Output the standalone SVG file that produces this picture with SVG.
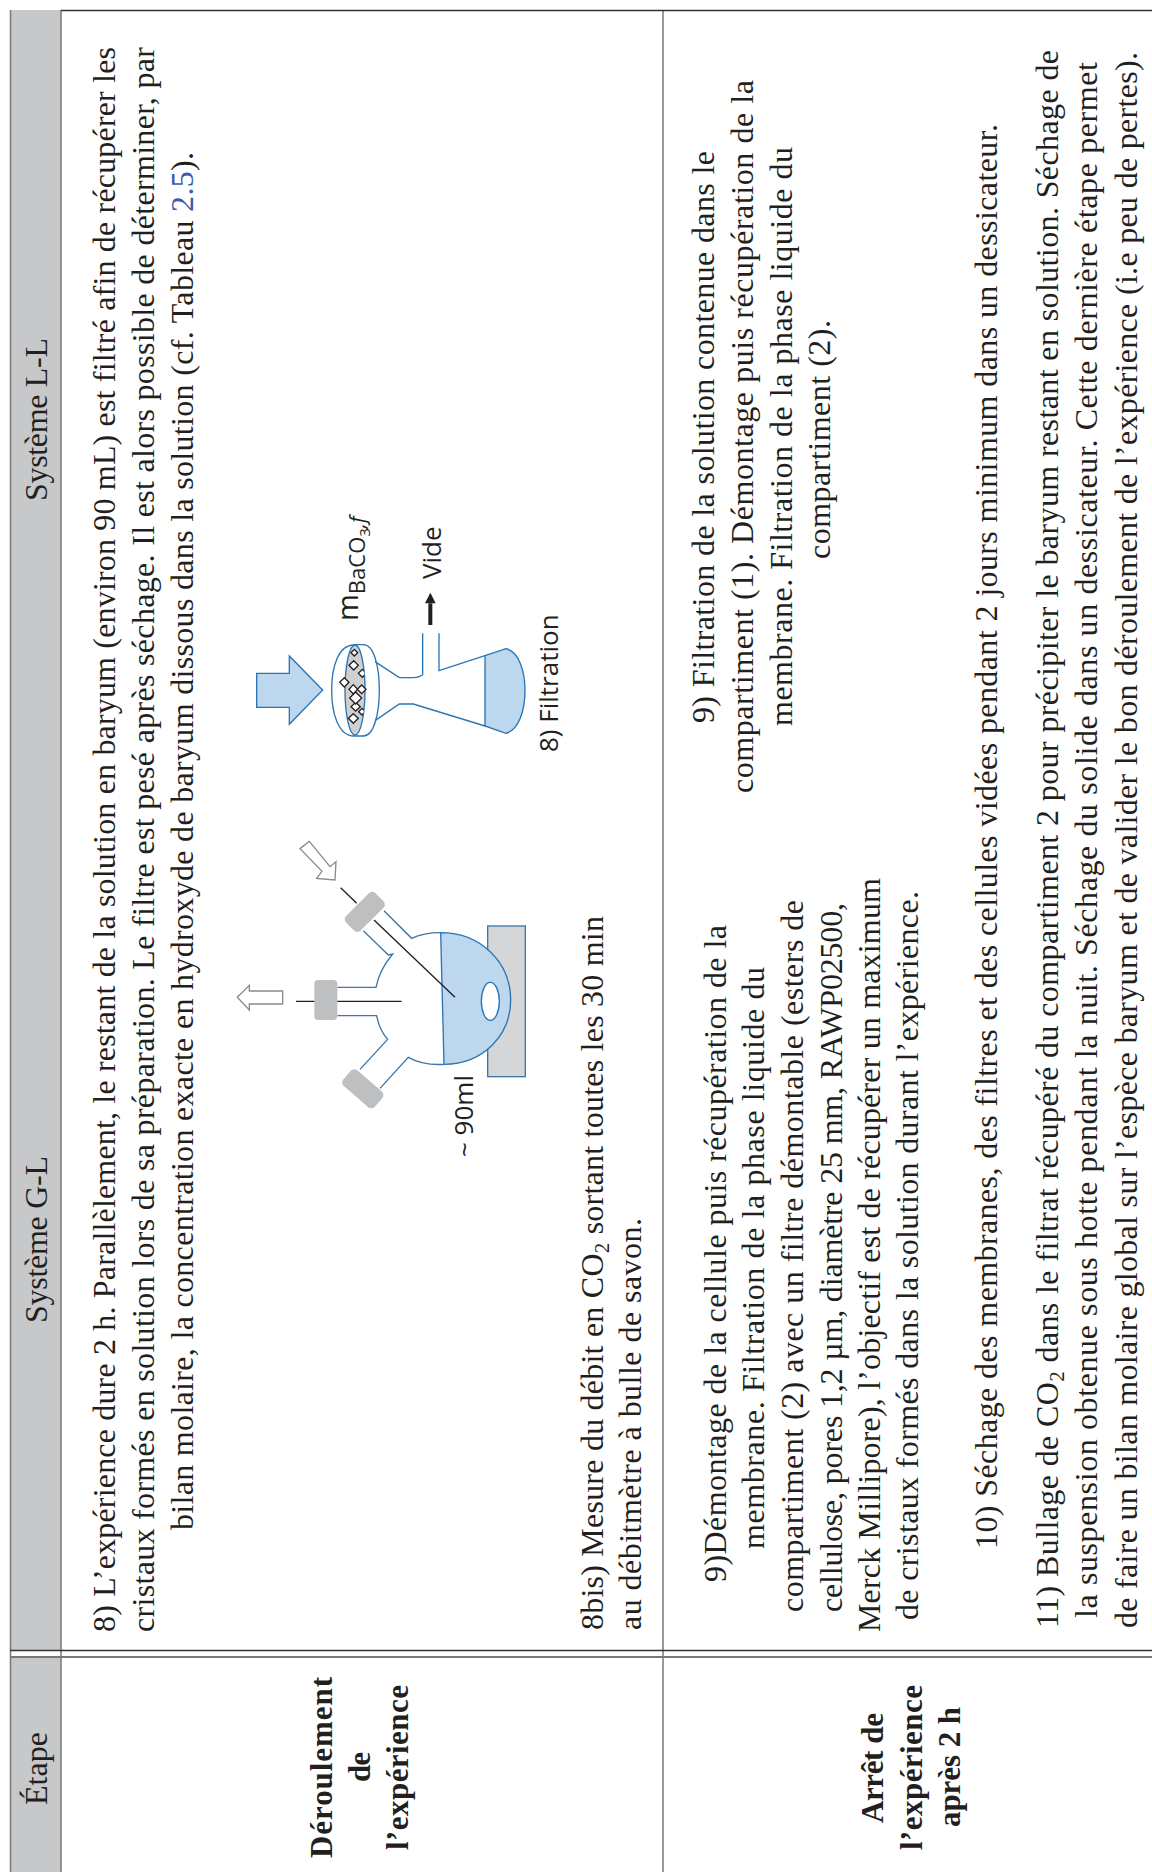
<svg xmlns="http://www.w3.org/2000/svg" width="1152" height="1872" viewBox="0 0 1152 1872">
<style>
text{fill:#231f20}
.t{font-family:"Liberation Serif",serif;font-size:32px}
.b{font-family:"Liberation Serif",serif;font-size:31px;font-weight:bold}
.s{font-family:"Open Sans",sans-serif;font-size:26px}
.bl{fill:none;stroke:#2a75b5;stroke-width:4}
.bf{fill:#bcd7ee;stroke:#2a75b5;stroke-width:4}
.gs{fill:#bebfc1}
.ln{fill:none;stroke:#231f20;stroke-width:4}
.wa{fill:#fff;stroke:#8a8b8d;stroke-width:4}
.d{fill:#fff;stroke:#231f20;stroke-width:4}
.sub{font-size:21px}
</style>
<defs><clipPath id="lens"><ellipse cx="375" cy="630" rx="30" ry="135"/></clipPath></defs>
<g id="table">
<rect x="10" y="10" width="51" height="1640" fill="#c7c8ca"/>
<rect x="10" y="1657" width="51" height="215" fill="#c7c8ca"/>
<g fill="none" stroke="#77787b" stroke-width="1.5">
<path d="M10.500 10V1872M61 10V1872"/>
<path d="M663 10V1872"/>
</g>
<path d="M61 10.500H1152M10 1650.500H1152" stroke="#333" stroke-width="1.500" fill="none"/>
<path d="M10 1657H1152" stroke="#77787b" stroke-width="2" fill="none"/>
</g>
<g id="headers">
<text class="t" transform="translate(47,1805) rotate(-90)" textLength="73">Étape</text>
<text class="t" transform="translate(47,1323) rotate(-90)" textLength="167">Système G-L</text>
<text class="t" transform="translate(47,501) rotate(-90)" textLength="163">Système L-L</text>
</g>
<g id="row-labels">
<text class="b" transform="translate(332,1858) rotate(-90)" textLength="181">Déroulement</text>
<text class="b" transform="translate(370,1782) rotate(-90)" textLength="30">de</text>
<text class="b" transform="translate(408,1850) rotate(-90)" textLength="165">l’expérience</text>
<text class="b" transform="translate(883,1823) rotate(-90)" textLength="110">Arrêt de</text>
<text class="b" transform="translate(922,1850) rotate(-90)" textLength="165">l’expérience</text>
<text class="b" transform="translate(960,1827) rotate(-90)" textLength="120">après 2 h</text>
</g>
<g id="row1-text">
<text class="t" transform="translate(115,1632) rotate(-90)" textLength="1585">8) L’expérience dure 2 h. Parallèlement, le restant de la solution en baryum (environ 90 mL) est filtré afin de récupérer les</text>
<text class="t" transform="translate(154,1632) rotate(-90)" textLength="1585">cristaux formés en solution lors de sa préparation. Le filtre est pesé après séchage. Il est alors possible de déterminer, par</text>
<text class="t" transform="translate(193,1530) rotate(-90)" textLength="1378">bilan molaire, la concentration exacte en hydroxyde de baryum dissous dans la solution (cf. Tableau <tspan fill="#3a5ab0">2.5</tspan>).</text>
<text class="t" transform="translate(603,1630) rotate(-90)" textLength="714">8bis) Mesure du débit en CO<tspan class="sub" dy="6">2</tspan><tspan dy="-6"> sortant toutes les 30 min</tspan></text>
<text class="t" transform="translate(641,1630) rotate(-90)" textLength="412">au débitmètre à bulle de savon.</text>
</g>
<g id="row2-gl-text">
<text class="t" transform="translate(726,1582) rotate(-90)" textLength="657">9)Démontage de la cellule puis récupération de la</text>
<text class="t" transform="translate(764,1549) rotate(-90)" textLength="582">membrane. Filtration de la phase liquide du</text>
<text class="t" transform="translate(803,1612) rotate(-90)" textLength="712">compartiment (2) avec un filtre démontable (esters de</text>
<text class="t" transform="translate(842,1612) rotate(-90)" textLength="709">cellulose, pores 1,2 µm, diamètre 25 mm, RAWP02500,</text>
<text class="t" transform="translate(880,1632) rotate(-90)" textLength="754">Merck Millipore), l’objectif est de récupérer un maximum</text>
<text class="t" transform="translate(918,1620) rotate(-90)" textLength="729">de cristaux formés dans la solution durant l’expérience.</text>
</g>
<g id="row2-ll-text">
<text class="t" transform="translate(714,723) rotate(-90)" textLength="572">9) Filtration de la solution contenue dans le</text>
<text class="t" transform="translate(753,793) rotate(-90)" textLength="713">compartiment (1). Démontage puis récupération de la</text>
<text class="t" transform="translate(792,726) rotate(-90)" textLength="579">membrane. Filtration de la phase liquide du</text>
<text class="t" transform="translate(830,559) rotate(-90)" textLength="239">compartiment (2).</text>
</g>
<g id="row2-wide-text">
<text class="t" transform="translate(997,1549) rotate(-90)" textLength="1425">10) Séchage des membranes, des filtres et des cellules vidées pendant 2 jours minimum dans un dessicateur.</text>
<text class="t" transform="translate(1058,1628) rotate(-90)" textLength="1578">11) Bullage de CO<tspan class="sub" dy="6">2</tspan><tspan dy="-6"> dans le filtrat récupéré du compartiment 2 pour précipiter le baryum restant en solution. Séchage de</tspan></text>
<text class="t" transform="translate(1097,1618) rotate(-90)" textLength="1556">la suspension obtenue sous hotte pendant la nuit. Séchage du solide dans un dessicateur. Cette dernière étape permet</text>
<text class="t" transform="translate(1137,1628) rotate(-90)" textLength="1576">de faire un bilan molaire global sur l’espèce baryum et de valider le bon déroulement de l’expérience (i.e peu de pertes).</text>
</g>
<g id="filtration-flask" transform="translate(230,480) scale(.33333)">
<path class="bf" d="M80 580H178V528L278 630L178 733V682H80Z"/>
<path class="bl" d="M372 495C325 495 305 560 305 630C305 700 325 768 372 768"/>
<path class="bl" d="M372 494H400C432 494 448 560 448 630C448 700 432 768 400 768H372"/>
<ellipse cx="375" cy="630" rx="30" ry="135" fill="#d0d0d0" stroke="#2a75b5" stroke-width="4"/>
<g class="d">
<path d="M343 593L357 607L343 621L329 607Z"/>
<path d="M371 542L385 556L371 570L357 556Z"/>
<path d="M370 614L383 628L370 642L357 628Z"/>
<path d="M395 615L408 628L395 641L382 628Z"/>
<path d="M377 667L391 680L377 693L363 680Z"/>
<path d="M377 636L395 654L377 672L359 654Z"/>
<path d="M370 701L385 715L370 730L355 715Z"/>
</g>
<g class="d" clip-path="url(#lens)">
<path d="M373 508L383 518L373 528L363 518Z"/>
<path d="M397 568L409 580L397 592L385 580Z"/>
<path d="M396 685L406 695L396 705L386 695Z"/>
</g>
<path class="bl" d="M435 545L508 593H550Q570 591 578 584V460M627 460V572L765 527M435 722L508 672H550L765 738"/>
<path class="bf" d="M765 527L828 506C865 515 885 570 885 630C885 695 865 750 828 760L765 738Z"/>
<path d="M601 435V370" stroke="#231f20" stroke-width="12" fill="none"/>
<path d="M585 370H617L601 338Z" fill="#231f20"/>
</g>
<g id="filtration-labels">
<text class="s" transform="translate(358,621) rotate(-90)" style="font-size:29px">m<tspan class="sub" dy="7" style="font-size:22px">BaCO</tspan><tspan dy="5" style="font-size:15px">3</tspan><tspan dy="-5" style="font-size:21px;font-style:italic">,f</tspan></text>
<text class="s" transform="translate(441,579) rotate(-90)">Vide</text>
<text class="s" transform="translate(558,752) rotate(-90)">8) Filtration</text>
</g>
<g id="gl-reactor" transform="translate(220,800) scale(.33333)">
<rect x="803" y="378" width="113" height="452" fill="#d5d6d8" stroke="#3d76a8" stroke-width="4"/>
<path class="bf" d="M662 398C785 398 872 490 872 600C872 705 790 793 672 793Z"/>
<ellipse cx="811" cy="604" rx="27" ry="57" fill="#fff" stroke="#2a75b5" stroke-width="4"/>
<path d="M662 398Q610 398 575 415L492 332M430 392L505 465L518 462Q478 510 468 562H352M352 647H470Q478 690 503 718L420 808M480 865L565 772Q610 797 672 793" fill="none" stroke="#3d76a8" stroke-width="4"/>
<rect x="372" y="305" width="125" height="62" rx="14" class="gs" transform="rotate(-45 434 336)"/>
<rect x="366" y="835" width="125" height="62" rx="14" class="gs" transform="rotate(41 428 866)"/>
<rect x="283" y="540" width="69" height="120" rx="12" class="gs"/>
<path class="ln" d="M362 263L410 310M462 360L705 592M228 604H283M352 604H545"/>
<path class="wa" d="M268 124L240 146L306 214L290 235L345 240L348 185L330 200Z"/>
<path class="wa" d="M52 592L88 556V573H188V612H88V630Z"/>
</g>
<g id="gl-label">
<text class="s" transform="translate(473,1157) rotate(-90)">~ 90ml</text>
</g>
</svg>
